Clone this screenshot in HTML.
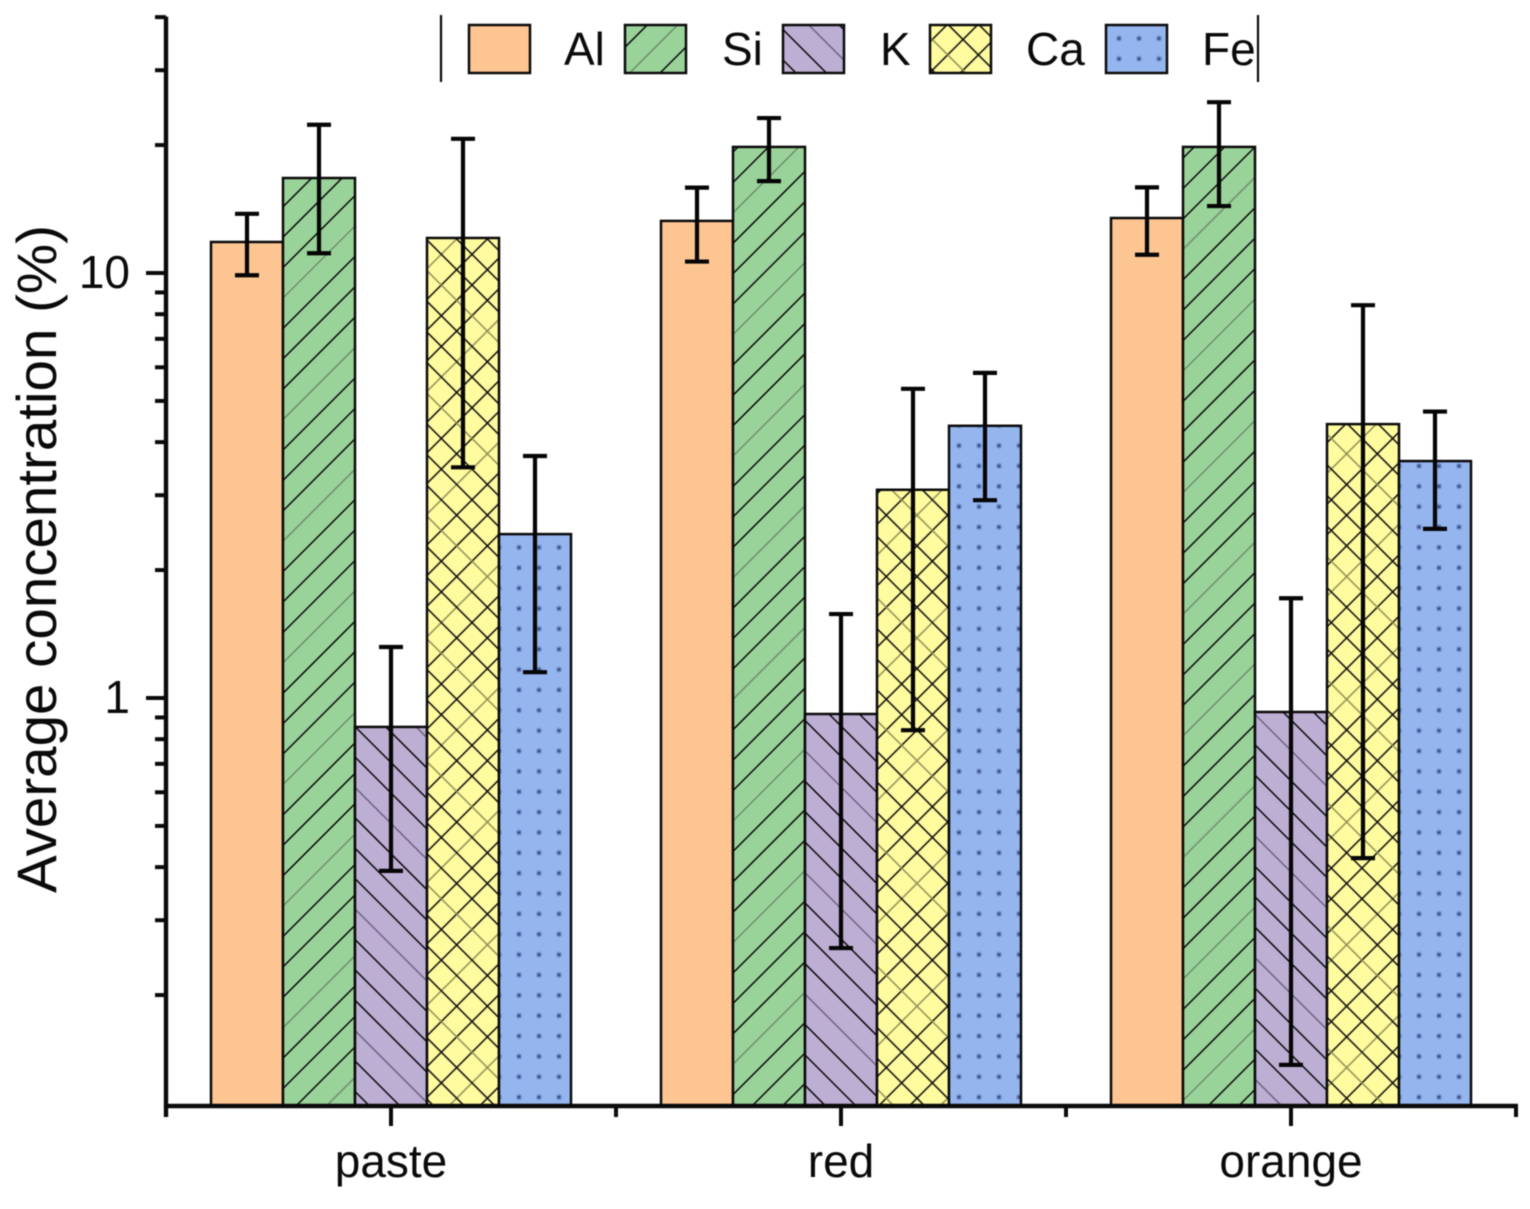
<!DOCTYPE html>
<html lang="en">
<head>
<meta charset="utf-8">
<title>Average concentration by sample</title>
<style>
html,body{margin:0;padding:0;background:#fff;}
body{width:1530px;height:1209px;overflow:hidden;}
svg{display:block;filter:blur(0.45px);}
text{font-family:"Liberation Sans",Arial,sans-serif;fill:#0a0a0a;}
</style>
</head>
<body>
<svg id="chart" xmlns="http://www.w3.org/2000/svg" width="1530" height="1209" viewBox="0 0 1530 1209">
  <defs>
    <pattern id="hatch-si" patternUnits="userSpaceOnUse" width="20" height="86" patternTransform="translate(283,298) rotate(-45) translate(0,-10.75)">
      <path d="M0 10.75H20" stroke="#6f8f6f" stroke-width="1.6"/>
      <path d="M0 32.25H20M0 53.75H20M0 75.25H20" stroke="#0b0b0b" stroke-width="1.5"/>
    </pattern>
    <pattern id="hatch-k" patternUnits="userSpaceOnUse" width="20" height="86" patternTransform="translate(356,910) rotate(45) translate(0,-10.75)">
      <path d="M0 10.75H20" stroke="#6f6480" stroke-width="1.6"/>
      <path d="M0 32.25H20M0 53.75H20M0 75.25H20" stroke="#0b0b0b" stroke-width="1.5"/>
    </pattern>
    <pattern id="hatch-ca-a" patternUnits="userSpaceOnUse" width="20" height="86.8" patternTransform="translate(472,285) rotate(-45) translate(0,-10.85)">
      <path d="M0 54.25H20" stroke="#8f8f55" stroke-width="1.6"/>
      <path d="M0 10.85H20M0 32.55H20M0 75.95H20" stroke="#0b0b0b" stroke-width="1.5"/>
    </pattern>
    <pattern id="hatch-ca-b" patternUnits="userSpaceOnUse" width="20" height="86.8" patternTransform="translate(472,285) rotate(45) translate(0,-10.85)">
      <path d="M0 32.55H20" stroke="#8f8f55" stroke-width="1.6"/>
      <path d="M0 10.85H20M0 54.25H20M0 75.95H20" stroke="#0b0b0b" stroke-width="1.5"/>
    </pattern>
    <pattern id="dots-fe" patternUnits="userSpaceOnUse" width="20" height="20.36" patternTransform="translate(949,435.6)">
      <circle cx="10" cy="10" r="3" fill="#7593cf"/>
      <path d="M8.7 8.7L11.3 11.3M11.3 8.7L8.7 11.3" stroke="#2a3c6c" stroke-width="0.9"/>
    </pattern>
  </defs>

  <g id="bars-layer"></g>
  <g id="errors-layer"></g>
  <g id="axes-layer"></g>

  <text transform="translate(56,893) rotate(-90)" font-size="56" textLength="668" lengthAdjust="spacingAndGlyphs">Average concentration (%)</text>

  <g id="legend">
    <line x1="441" y1="15" x2="441" y2="82" stroke="#0a0a0a" stroke-width="2.2"/>
    <line x1="1258" y1="15" x2="1258" y2="82" stroke="#0a0a0a" stroke-width="2.2"/>
  </g>
</svg>

<script>
// ---- chart data ----
const categories = ["paste", "red", "orange"];
const seriesNames = ["Al", "Si", "K", "Ca", "Fe"];
const alValues = [11.83, 13.26, 13.47];
const siValues = [16.73, 19.8, 19.8];
const kValues = [0.855, 0.917, 0.927];
const caValues = [12.09, 3.09, 4.41];
const feValues = [2.43, 4.37, 3.61];
const alErrors = [1.95, 2.62, 2.43];
const siErrors = [5.6, 3.35, 5.43];
const kErrors = [0.463, 0.659, 0.79];
const caErrors = [8.6, 2.25, 3.99];
const feErrors = [1.28, 1.45, 1.11];
const majorTickLabels = ["1", "10"];
const majorTickValues = [1, 10];
const minorTickValues = [0.2, 0.3, 0.4, 0.5, 0.6, 0.7, 0.8, 0.9, 2, 3, 4, 5, 6, 7, 8, 9, 20, 30, 40];
const yMin = 0.11;
const yMax = 40;

// ---- axis functions ----
const NS = "http://www.w3.org/2000/svg";
const yOne = 698, decade = 425;
const xFirst = 391, groupStep = 450, barStep = 72;
function yScale(v) { return yOne - decade * Math.log10(v); }
function groupX(i) { return xFirst + groupStep * i; }
function barLeft(g, s) { return groupX(g) + (s - seriesNames.length / 2) * barStep; }

function svgEl(parent, tag, attrs, text) {
  const el = document.createElementNS(NS, tag);
  for (const k in attrs) el.setAttribute(k, attrs[k]);
  if (text !== undefined) el.textContent = text;
  parent.appendChild(el);
  return el;
}

const seriesValues = [alValues, siValues, kValues, caValues, feValues];
const seriesErrors = [alErrors, siErrors, kErrors, caErrors, feErrors];
const seriesFill = ["#fdc592", "#9ad39a", "#bdaed4", "#fffb9f", "#95b5ef"];
const seriesHatch = [[], ["hatch-si"], ["hatch-k"], ["hatch-ca-a", "hatch-ca-b"], ["dots-fe"]];

const barsLayer = document.getElementById("bars-layer");
const errorsLayer = document.getElementById("errors-layer");
const axesLayer = document.getElementById("axes-layer");
const baseY = yScale(yMin);

// bars
seriesNames.forEach(function (name, s) {
  categories.forEach(function (cat, g) {
    const x = barLeft(g, s), top = yScale(seriesValues[s][g]), h = baseY - top;
    const bar = svgEl(barsLayer, "rect", { x: x, y: top, width: barStep, height: h, fill: seriesFill[s] });
    
    
    seriesHatch[s].forEach(function (p) {
      const hatch = svgEl(barsLayer, "rect", { x: x, y: top, width: barStep, height: h, fill: "url(#" + p + ")" });
      
      
    });
    const outline = svgEl(barsLayer, "rect", { x: x, y: top, width: barStep, height: h, fill: "none", stroke: "#0a0a0a", "stroke-width": 2.5 });
    
    
  });
});

// error bars
seriesNames.forEach(function (name, s) {
  categories.forEach(function (cat, g) {
    const cx = barLeft(g, s) + barStep / 2;
    const hi = yScale(seriesValues[s][g] + seriesErrors[s][g]);
    const lo = yScale(seriesValues[s][g] - seriesErrors[s][g]);
    const path = svgEl(errorsLayer, "path", {
      d: "M" + cx + " " + hi + "V" + lo + "M" + (cx - 12) + " " + hi + "H" + (cx + 12) + "M" + (cx - 12) + " " + lo + "H" + (cx + 12),
      fill: "none", stroke: "#050505", "stroke-width": 4.2
    });
    
    
  });
});

// axes
const axisX = 166, axisY = 1106;
const yAxisLine = svgEl(axesLayer, "line", { x1: axisX, y1: yScale(yMax) - 0.5, x2: axisX, y2: axisY + 11, stroke: "#0a0a0a", "stroke-width": 4.4 });


const xAxisLine = svgEl(axesLayer, "line", { x1: axisX, y1: axisY, x2: groupX(categories.length - 1) + groupStep / 2 + 2, y2: axisY, stroke: "#0a0a0a", "stroke-width": 4.4 });



minorTickValues.forEach(function (v) {
  const t = svgEl(axesLayer, "line", { x1: axisX - 11, y1: yScale(v), x2: axisX, y2: yScale(v), stroke: "#0a0a0a", "stroke-width": 4 });
  
  
});
majorTickValues.forEach(function (v, i) {
  const t = svgEl(axesLayer, "line", { x1: axisX - 20, y1: yScale(v), x2: axisX, y2: yScale(v), stroke: "#0a0a0a", "stroke-width": 4 });
  
  
  const label = svgEl(axesLayer, "text", { x: 130, y: yScale(v) + 15, "font-size": 46, "text-anchor": "end" }, majorTickLabels[i]);
  
  
});
categories.forEach(function (cat, g) {
  const cx = groupX(g);
  const t = svgEl(axesLayer, "line", { x1: cx, y1: axisY, x2: cx, y2: axisY + 20, stroke: "#0a0a0a", "stroke-width": 4 });
  
  
  const label = svgEl(axesLayer, "text", { x: cx, y: 1177, "font-size": 46, "text-anchor": "middle" }, cat);
  
  
  const bx = cx + groupStep / 2;
  const m = svgEl(axesLayer, "line", { x1: bx, y1: axisY, x2: bx, y2: axisY + 11, stroke: "#0a0a0a", "stroke-width": 4 });
  
  
});

// legend
const legend = document.getElementById("legend");
const legendSwatchX = [469, 625, 783, 930, 1106];
const legendLabelX = [564, 722, 880, 1026, 1202];
seriesNames.forEach(function (name, s) {
  const base = svgEl(legend, "rect", { x: legendSwatchX[s], y: 25, width: 61, height: 48, fill: seriesFill[s] });
  
  
  seriesHatch[s].forEach(function (p) {
    const hatch = svgEl(legend, "rect", { x: legendSwatchX[s], y: 25, width: 61, height: 48, fill: "url(#" + p + ")" });
    
    
  });
  const border = svgEl(legend, "rect", { x: legendSwatchX[s], y: 25, width: 61, height: 48, fill: "none", stroke: "#0a0a0a", "stroke-width": 2.5 });
  
  
  const label = svgEl(legend, "text", { x: legendLabelX[s], y: 65, "font-size": 46 }, name);
  
  
});
</script>
</body>
</html>
